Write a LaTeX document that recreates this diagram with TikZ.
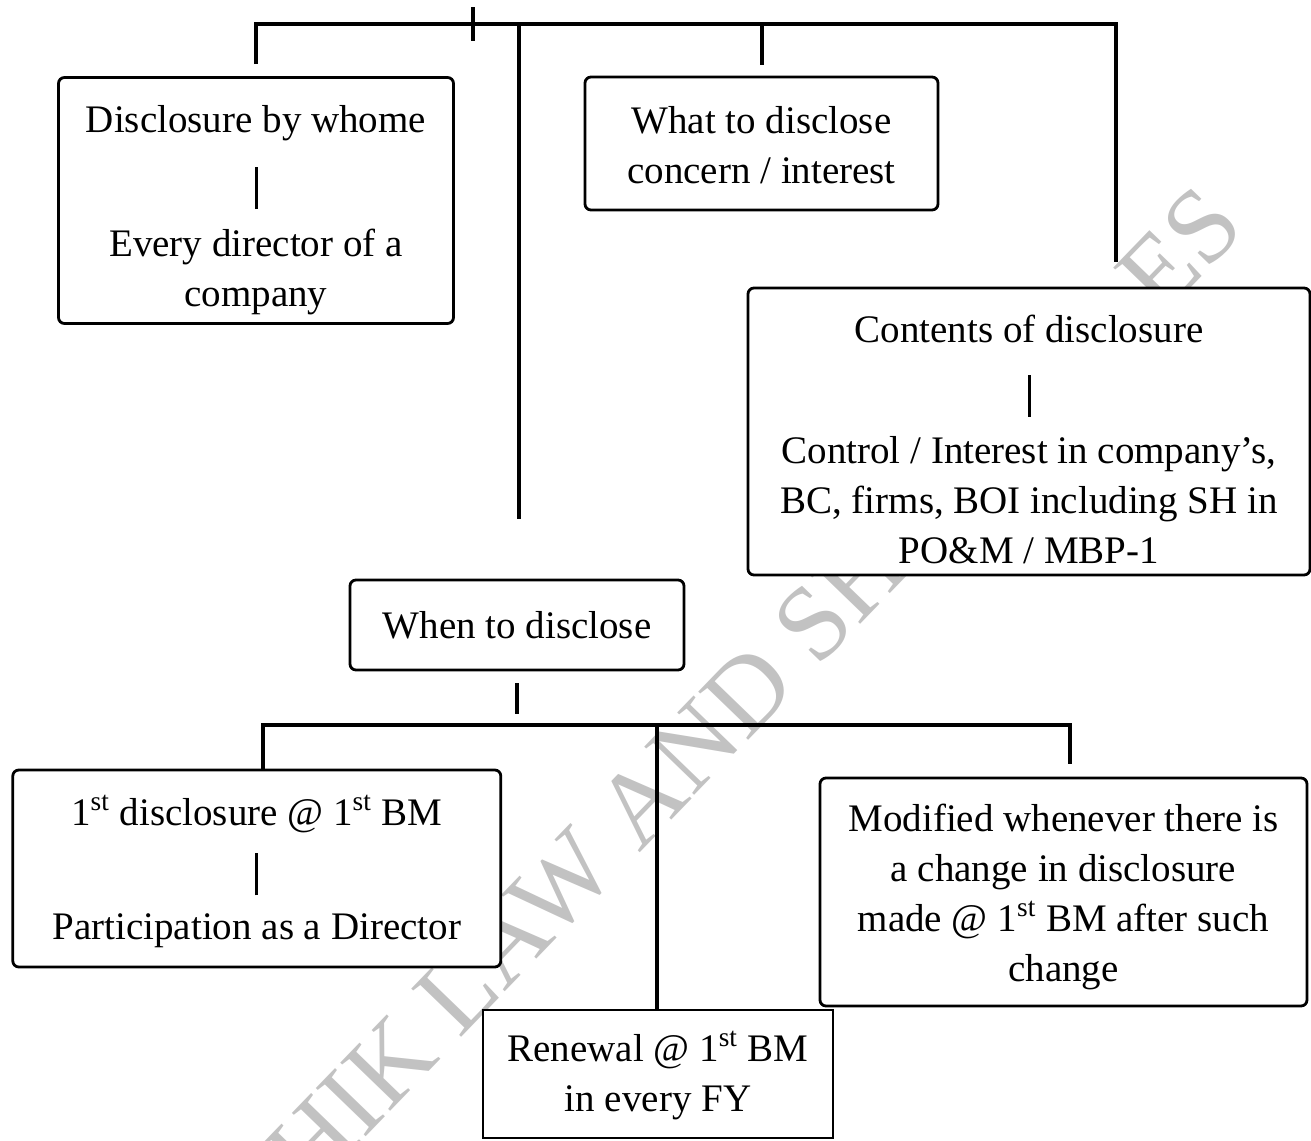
\documentclass[tikz,border=0pt]{standalone}
\usepackage{fontspec}
\setmainfont{Liberation Serif}
\usetikzlibrary{positioning}

\tikzset{
  box/.style={draw, line width=1.4pt, rounded corners=3pt, fill=white,
    align=center, inner sep=0pt, font=\fontsize{19.5}{25}\selectfont},
  sqbox/.style={box, sharp corners, line width=1.2pt},
  wire/.style={line width=2pt},
  wmark/.style={text=black!24, inner sep=0pt, rotate=46, font=\fontsize{53}{53}\selectfont}
}
% short bar between two parts of a box
\newcommand{\divbar}{\\[12pt]\rule{1.5pt}{21pt}\\[-1.5pt]}
\newcommand{\fst}{1\textsuperscript{st}}
% pushes the first line of a box down a little
\newcommand{\topgap}[1]{\rule{0pt}{#1pt}}

\begin{document}
\begin{tikzpicture}[x=0.5pt,y=-0.5pt]
	\useasboundingbox (0,0) rectangle (1311,1140);
	\clip (0,0) rectangle (1311,1140);

	% watermark, partly hidden behind the boxes
	\node (wmA) [wmark] at (566,880) {SHIK LAW AND SH};
	\node (wmB) [wmark] at (1180,250) {ES};

	% boxes
	\draw (256,200.5) 	node (whom) [box, minimum width=197.5pt, minimum height=123pt] {\topgap{23}Disclosure by whome\divbar Every director of a\\company};
	\draw (761.5,143.5) node (what) [box, minimum width=176.5pt, minimum height=66.5pt] {\topgap{15}What to disclose\\concern / interest};
	\draw (1029,431.5) 	node (contents) [box, minimum width=281pt, minimum height=143.5pt] {\topgap{22}Contents of disclosure\divbar Control / Interest in company's,\\BC, firms, BOI including SH in\\PO\&M / MBP-1};
	\draw (517,625) 		node (when) [box, minimum width=167pt, minimum height=45pt] {When to disclose};
	\draw (256.8,868.5) node (first) [box, minimum width=244pt, minimum height=98.5pt] {\topgap{18}\fst{} disclosure @ \fst{} BM\\[10pt]\rule{1.5pt}{21pt}\\[-3pt]Participation as a Director};
	\draw (658,1074) 		node (renewal) [sqbox, minimum width=175pt, minimum height=64pt] {\topgap{17}Renewal @ \fst{} BM\\in every FY};
	\draw (1063.5,892) 	node (modified) [box, minimum width=243.5pt, minimum height=114pt] {\topgap{19}Modified whenever there is\\a change in disclosure\\made @ \fst{} BM after such\\change};

	% upper bus
	\coordinate (root) at (473,7);
	\coordinate (rootend) at (473,41);
	\coordinate (busM) at (519,24);
	\coordinate (busR) at (1116,24);
	\draw[wire] (root) -- (rootend);
	\draw[wire] ([yshift=6pt]whom.north) |- (busR) -- ([yshift=12.5pt]contents.north -| busR);
	\draw[wire] (what.north |- busR) -- ([yshift=5.5pt]what.north);
	\draw[wire] (busM) -- ([yshift=30pt]when.north -| busM);

	% lower bus
	\coordinate (lowL) at (263,725);
	\coordinate (lowM) at (657,725);
	\coordinate (lowR) at (1070,725);
	\draw[wire] ([yshift=-6pt]when.south) -- ([yshift=-21.5pt]when.south);
	\draw[wire] (first.north -| lowL) |- (lowR) -- ([yshift=6.5pt]modified.north -| lowR);
	\draw[wire] (lowM) -- (renewal.north -| lowM);
\end{tikzpicture}
\end{document}
